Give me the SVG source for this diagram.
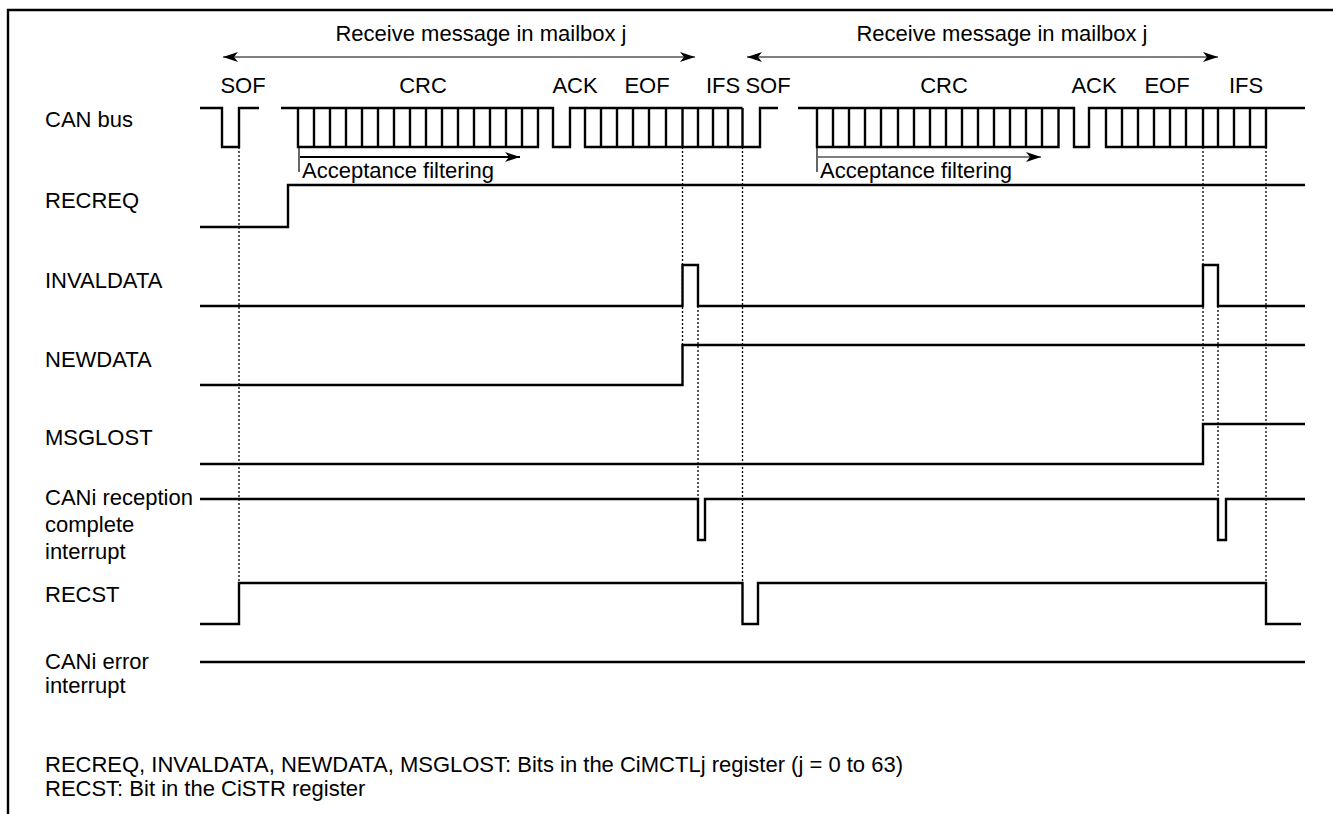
<svg xmlns="http://www.w3.org/2000/svg" width="1333" height="814" viewBox="0 0 1333 814">
<style>
text{font-family:"Liberation Sans",Arial,sans-serif;font-size:22px;fill:#000}
.sig{fill:none;stroke:#000;stroke-width:2.4;stroke-linejoin:miter;stroke-linecap:butt}
.dot{fill:none;stroke:#000;stroke-width:1.3;stroke-dasharray:2 2}
.thin{fill:none;stroke:#000;stroke-width:1.2}
.mid{text-anchor:middle}
</style>
<defs>
<marker id="ah" viewBox="0 0 15 10" refX="15" refY="5" markerWidth="15" markerHeight="10" markerUnits="userSpaceOnUse" orient="auto-start-reverse">
<path d="M0,0 L15,5 L0,10 L4,5 Z" fill="#000"/>
</marker>
</defs>
<rect width="1333" height="814" fill="#fff"/>
<path d="M8,814 V10 H1333" fill="none" stroke="#000" stroke-width="2.4"/>

<g id="frame-labels">
<line class="thin" x1="223" y1="57" x2="695" y2="57" marker-start="url(#ah)" marker-end="url(#ah)"/>
<text class="mid" x="481" y="41">Receive message in mailbox j</text>
<line class="thin" x1="747" y1="57" x2="1218" y2="57" marker-start="url(#ah)" marker-end="url(#ah)"/>
<text class="mid" x="1002" y="41">Receive message in mailbox j</text>
<text class="mid" x="243" y="93">SOF</text>
<text class="mid" x="423" y="93">CRC</text>
<text class="mid" x="575" y="93">ACK</text>
<text class="mid" x="647" y="93">EOF</text>
<text class="mid" x="723" y="93">IFS</text>
<text class="mid" x="768" y="93">SOF</text>
<text class="mid" x="944" y="93">CRC</text>
<text class="mid" x="1094" y="93">ACK</text>
<text class="mid" x="1167" y="93">EOF</text>
<text class="mid" x="1246" y="93">IFS</text>
</g>

<g id="canbus">
<text x="45" y="127">CAN bus</text>
<path class="sig" d="M200,108 H222 V147 H239 V108 H259"/>
<path class="sig" d="M281,108 H298 V147 H538 V108 H553 V147 H570 V108 H585 V147 H742.5 V108 M298,108 H538"/>
<path class="sig" d="M314,108V147M330,108V147M346,108V147M362,108V147M378,108V147M394,108V147M410,108V147M426,108V147M442,108V147M458,108V147M474,108V147M490,108V147M506,108V147M522,108V147"/>
<path class="sig" d="M585,108 H742.5 M601,108V147M617,108V147M633,108V147M649,108V147M666,108V147M682.5,108V147M698,108V147M713,108V147M728,108V147"/>
<path class="sig" d="M742.5,147 H760 V108 H778"/>
<path class="sig" d="M798,108 H817 V147 H1058.5 V108 H1074 V147 H1089 V108 H1106 V147 H1266 V108 H1305 M817,108 H1058.5 M1106,108 H1266"/>
<path class="sig" d="M833,108V147M849,108V147M865,108V147M881,108V147M898,108V147M914,108V147M930,108V147M946,108V147M962,108V147M978,108V147M994,108V147M1010,108V147M1026,108V147M1042,108V147"/>
<path class="sig" d="M1122,108V147M1138,108V147M1154,108V147M1170,108V147M1186,108V147M1203,108V147M1218,108V147M1234,108V147M1250,108V147"/>
<line class="thin" x1="299" y1="148" x2="299" y2="172"/>
<line x1="300" y1="157" x2="520" y2="157" stroke="#000" stroke-width="2" marker-end="url(#ah)"/>
<text x="302" y="178">Acceptance filtering</text>
<line class="thin" x1="817" y1="148" x2="817" y2="172"/>
<line class="thin" x1="818" y1="157" x2="1041" y2="157" marker-end="url(#ah)"/>
<text x="820" y="178">Acceptance filtering</text>
</g>

<g id="recreq">
<text x="45" y="208">RECREQ</text>
<path class="sig" d="M200,227 H288 V185 H1305"/>
</g>

<g id="invaldata">
<text x="45" y="288">INVALDATA</text>
<path class="sig" d="M200,306 H682.5 V265 H698 V306 H1203 V265 H1218 V306 H1305"/>
</g>

<g id="newdata">
<text x="45" y="367">NEWDATA</text>
<path class="sig" d="M200,385 H682.5 V345 H1305"/>
</g>

<g id="msglost">
<text x="45" y="445">MSGLOST</text>
<path class="sig" d="M200,464 H1203 V424 H1305"/>
</g>

<g id="rx-interrupt">
<text x="45" y="505">CANi reception</text>
<text x="45" y="532">complete</text>
<text x="45" y="559">interrupt</text>
<path class="sig" d="M200,499 H698 V540 H705 V499 H1218 V540 H1226 V499 H1305"/>
</g>

<g id="recst">
<text x="45" y="602">RECST</text>
<path class="sig" d="M200,624 H239 V583 H742.5 V624 H758 V583 H1266 V624 H1301"/>
</g>

<g id="err-interrupt">
<text x="45" y="669">CANi error</text>
<text x="45" y="693">interrupt</text>
<path class="sig" d="M200,662 H1305"/>
</g>

<g id="connectors">
<path class="dot" d="M239,147 V583 M682.5,147 V345 M698,306 V499 M742.5,147 V583 M1203,147 V424 M1218,306 V499 M1266,147 V583"/>
</g>

<g id="notes">
<text x="45" y="772">RECREQ, INVALDATA, NEWDATA, MSGLOST: Bits in the CiMCTLj register (j = 0 to 63)</text>
<text x="45" y="796">RECST: Bit in the CiSTR register</text>
</g>
</svg>
